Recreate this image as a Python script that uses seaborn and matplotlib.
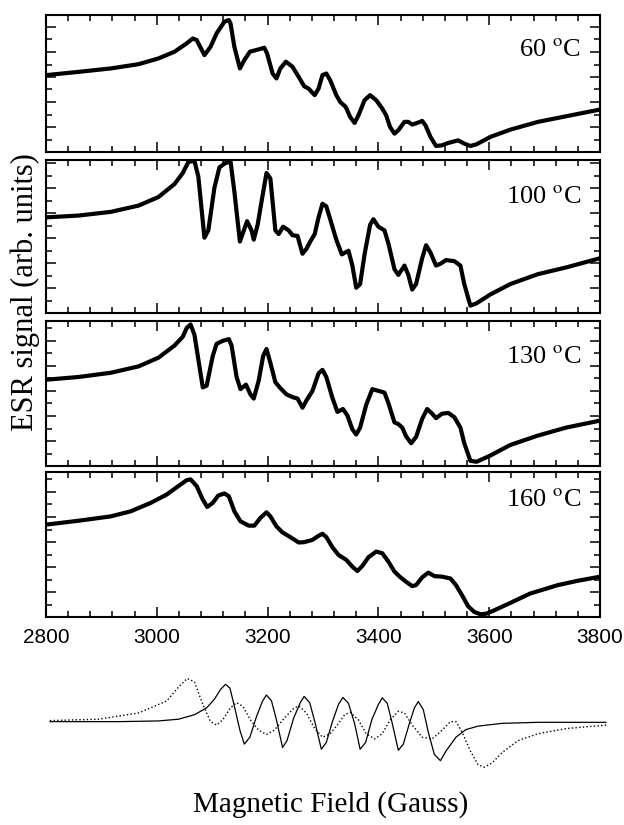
import matplotlib
matplotlib.use("Agg")
import matplotlib.pyplot as plt
import pandas as pd
import seaborn as sns
from matplotlib.ticker import MultipleLocator, NullFormatter

"""
ESR spectra at four temperatures, stacked, plus two simulated
component spectra (solid and dotted) under the field axis.
"""

temps = ["60", "100", "130", "160"]

# field (Gauss) and signal (arb. units, 0-100 of the panel)
f60 = [2800, 2859, 2917, 2967, 3003, 3032, 3054, 3065, 3072, 3086,
       3097, 3108, 3122, 3130, 3133, 3140, 3150, 3158, 3168, 3184,
       3194, 3199, 3209, 3216, 3223, 3233, 3245, 3256, 3266, 3274,
       3285, 3292, 3299, 3306, 3313, 3324, 3331, 3341, 3349, 3357,
       3364, 3375, 3385, 3396, 3407, 3414, 3421, 3429, 3436, 3447,
       3454, 3461, 3472, 3479, 3485, 3494, 3504, 3515, 3526, 3544,
       3555, 3566, 3577, 3602, 3638, 3688, 3739, 3800]
s60 = [56.1, 58.5, 61.0, 64.1, 68.3, 73.2, 79.3, 82.9, 81.7, 70.7,
       76.8, 86.6, 95.1, 96.3, 93.9, 76.8, 61.0, 67.1, 73.2, 74.9,
       76.1, 72.0, 57.3, 53.7, 61.0, 65.9, 62.2, 54.9, 48.0, 46.3,
       41.5, 46.3, 56.1, 57.3, 52.4, 41.5, 36.6, 32.9, 25.6, 21.2,
       26.8, 37.8, 41.5, 37.8, 31.7, 26.8, 18.3, 13.4, 15.9, 22.0,
       22.0, 20.0, 21.5, 22.7, 19.5, 11.0, 4.4, 4.9, 6.6, 8.5,
       6.1, 4.4, 5.6, 11.0, 16.3, 22.0, 26.1, 31.0]

f100 = [2800, 2859, 2917, 2967, 3003, 3032, 3047, 3057, 3068, 3075,
        3081, 3086, 3093, 3104, 3113, 3122, 3133, 3140, 3150, 3156,
        3163, 3171, 3175, 3182, 3191, 3198, 3205, 3214, 3220, 3228,
        3238, 3245, 3254, 3263, 3270, 3277, 3285, 3292, 3299, 3306,
        3313, 3324, 3334, 3346, 3353, 3360, 3367, 3375, 3385, 3391,
        3400, 3411, 3418, 3429, 3436, 3447, 3454, 3461, 3468, 3479,
        3486, 3494, 3504, 3512, 3522, 3537, 3548, 3555, 3566, 3577,
        3602, 3638, 3688, 3739, 3800]
s100 = [62.5, 63.7, 66.1, 70.2, 75.8, 84.3, 91.5, 98.8, 99.3, 89.1,
        67.3, 49.2, 54.0, 81.8, 95.2, 97.6, 99.3, 79.4, 46.7, 52.8,
        60.0, 54.0, 47.9, 57.6, 77.0, 91.5, 87.9, 54.0, 51.6, 56.4,
        54.0, 50.8, 50.4, 38.7, 41.9, 46.7, 51.6, 62.5, 71.4, 69.7,
        61.3, 47.9, 38.3, 40.7, 31.0, 16.5, 18.9, 38.3, 57.6, 61.3,
        56.4, 54.0, 45.5, 28.6, 24.9, 31.0, 24.9, 15.3, 18.9, 35.8,
        44.3, 39.5, 31.0, 32.2, 34.6, 33.9, 31.0, 18.9, 4.8, 6.3,
        12.1, 18.9, 25.4, 29.8, 35.8]

f130 = [2800, 2859, 2917, 2967, 3003, 3032, 3047, 3054, 3061, 3068,
        3075, 3083, 3090, 3101, 3108, 3119, 3130, 3135, 3144, 3151,
        3161, 3169, 3175, 3184, 3192, 3198, 3205, 3214, 3223, 3234,
        3245, 3254, 3263, 3270, 3281, 3292, 3299, 3306, 3317, 3326,
        3336, 3344, 3353, 3360, 3367, 3378, 3389, 3400, 3411, 3418,
        3429, 3436, 3443, 3450, 3459, 3468, 3479, 3488, 3497, 3504,
        3515, 3526, 3537, 3548, 3555, 3566, 3577, 3602, 3638, 3688,
        3739, 3800]
s130 = [59.5, 61.4, 64.3, 68.7, 74.7, 83.1, 89.2, 95.2, 97.6, 90.4,
        73.5, 54.2, 55.4, 75.9, 84.3, 86.3, 87.5, 83.1, 61.4, 53.0,
        56.1, 49.4, 46.5, 59.0, 75.9, 80.7, 71.1, 57.8, 53.7, 49.4,
        47.5, 46.5, 40.2, 45.1, 51.8, 63.9, 66.3, 61.4, 47.0, 37.3,
        39.3, 34.9, 25.3, 21.7, 26.5, 42.2, 53.0, 51.8, 50.6, 43.4,
        30.1, 28.9, 26.5, 20.5, 15.7, 20.0, 32.5, 39.3, 36.1, 33.0,
        36.1, 36.6, 33.7, 26.5, 15.7, 3.6, 2.9, 7.2, 14.5, 21.0,
        26.5, 31.3]

f160 = [2800, 2859, 2917, 2953, 2989, 3018, 3039, 3054, 3061, 3072,
        3083, 3091, 3101, 3111, 3122, 3130, 3140, 3151, 3166, 3176,
        3187, 3198, 3205, 3216, 3227, 3241, 3256, 3266, 3281, 3292,
        3299, 3306, 3317, 3328, 3342, 3353, 3362, 3371, 3382, 3396,
        3407, 3418, 3429, 3440, 3450, 3461, 3468, 3479, 3490, 3501,
        3515, 3530, 3540, 3551, 3562, 3573, 3584, 3595, 3609, 3638,
        3674, 3724, 3760, 3800]
s160 = [63.7, 66.4, 69.4, 72.9, 78.7, 84.5, 90.3, 94.4, 94.9, 90.3,
        81.0, 75.9, 78.7, 83.8, 85.2, 83.3, 72.9, 66.0, 63.0, 63.0,
        68.3, 72.2, 69.4, 62.5, 58.3, 55.1, 51.4, 51.6, 53.2, 56.0,
        57.4, 55.1, 48.1, 42.8, 39.4, 34.7, 31.7, 35.2, 41.2, 45.1,
        44.0, 38.2, 31.3, 27.3, 24.3, 21.3, 22.0, 27.3, 30.6, 28.2,
        27.8, 26.6, 22.0, 15.0, 7.4, 3.5, 1.9, 2.3, 4.6, 9.7,
        16.2, 22.0, 25.0, 27.8]

# simulated components (bottom, no axes)
f_solid = [2807, 2931, 3003, 3039, 3068, 3090, 3104, 3115, 3124, 3132,
           3140, 3150, 3158, 3168, 3180, 3191, 3198, 3207, 3216, 3227,
           3235, 3247, 3259, 3266, 3276, 3286, 3297, 3306, 3317, 3328,
           3336, 3346, 3357, 3367, 3377, 3388, 3400, 3407, 3416, 3425,
           3436, 3445, 3456, 3465, 3472, 3481, 3490, 3501, 3512, 3522,
           3540, 3558, 3580, 3623, 3688, 3811]
s_solid = [0, 0, 2, 7, 20, 40, 65, 93, 108, 97,
           45, -25, -65, -45, 15, 60, 77, 60, 5, -75,
           -55, 10, 55, 73, 55, -5, -80, -60, 0, 50,
           70, 53, -5, -80, -60, 5, 50, 69, 53, -5,
           -83, -65, -5, 40, 58, 35, -30, -95, -113, -85,
           -45, -23, -13, -5, -2, -2]

f_dot = [2807, 2895, 2967, 3018, 3039, 3055, 3068, 3083, 3097, 3108,
         3119, 3133, 3144, 3155, 3169, 3184, 3198, 3212, 3230, 3248,
         3257, 3270, 3285, 3299, 3313, 3328, 3339, 3349, 3364, 3378,
         3393, 3407, 3421, 3436, 3447, 3461, 3479, 3497, 3515, 3530,
         3540, 3551, 3566, 3580, 3591, 3605, 3623, 3652, 3688, 3739,
         3811]
s_dot = [3, 7, 25, 60, 100, 125, 115, 50, 0, -10,
         5, 40, 55, 45, 5, -25, -37, -25, 10, 40,
         45, 25, -20, -45, -35, -5, 20, 27, 5, -35,
         -50, -35, 5, 30, 25, -10, -45, -50, -25, 0,
         0, -30, -85, -125, -132, -120, -90, -55, -35, -20,
         -10]

sns.set_style("ticks")
plt.rcParams["font.family"] = ["Liberation Serif", "DejaVu Serif"]
plt.rcParams["mathtext.fontset"] = "stix"
plt.rcParams["axes.linewidth"] = 1.5
plt.rcParams["text.color"] = "black"
plt.rcParams["axes.edgecolor"] = "black"
plt.rcParams["xtick.color"] = "black"
plt.rcParams["ytick.color"] = "black"

W, H = 624, 825
fig = plt.figure(figsize=(W / 100, H / 100), dpi=100)

# panel top/bottom in pixels, label height as axes fraction
boxes = [(15, 152), (160, 313), (321, 466), (472, 617)]
label_y = [0.745, 0.76, 0.75, 0.81]
fields = [f60, f100, f130, f160]
signals = [s60, s100, s130, s160]

for i, (t, f, s) in enumerate(zip(temps, fields, signals)):
    top, bot = boxes[i]
    h = bot - top
    ax = fig.add_axes([46 / W, 1 - bot / H, 554 / W, h / H])
    df = pd.DataFrame({"field": f, "signal": s})
    sns.lineplot(data=df, x="field", y="signal", ax=ax, color="black",
                 lw=3, sort=False, estimator=None,
                 solid_joinstyle="round", solid_capstyle="round")
    ax.set_xlim(2800, 3800)
    ax.set_ylim(0, 100)
    ax.xaxis.set_major_locator(MultipleLocator(200))
    ax.xaxis.set_minor_locator(MultipleLocator(40))
    ax.yaxis.set_major_locator(MultipleLocator(100 * 25 / h))
    ax.yaxis.set_minor_locator(MultipleLocator(100 * 12.5 / h))
    ax.tick_params(which="both", direction="in", top=True, right=True,
                   width=1.1, colors="black")
    ax.tick_params(which="major", length=7)
    ax.tick_params(which="minor", length=4)
    ax.yaxis.set_major_formatter(NullFormatter())
    ax.set_xlabel("")
    ax.set_ylabel("")
    if i < 3:
        ax.xaxis.set_major_formatter(NullFormatter())
    else:
        ax.tick_params(axis="x", pad=8, labelsize=15)
        for lab in ax.get_xticklabels():
            lab.set_fontfamily("Liberation Sans")
    ax.text(0.966, label_y[i], t + r" $^{\rm o}$C", transform=ax.transAxes,
            ha="right", va="center", fontsize=19)

# simulated spectra
axs = fig.add_axes([46 / W, 1 - 770 / H, 554 / W, 95 / H])
sns.lineplot(x=f_solid, y=s_solid, ax=axs, color="black", lw=0.9,
             sort=False, estimator=None, clip_on=False)
sns.lineplot(x=f_dot, y=s_dot, ax=axs, color="black", lw=1.0,
             linestyle=":", sort=False, estimator=None, clip_on=False)
axs.set_xlim(2800, 3800)
axs.set_ylim(-140, 135)
axs.axis("off")

fig.text(25 / W, 1 - 292 / H, "ESR signal (arb. units)", rotation=90,
         ha="center", va="center", fontsize=22)
fig.text(331 / W, 1 - 805 / H, "Magnetic Field (Gauss)",
         ha="center", va="center", fontsize=21)

fig.savefig("out.png", dpi=100)
